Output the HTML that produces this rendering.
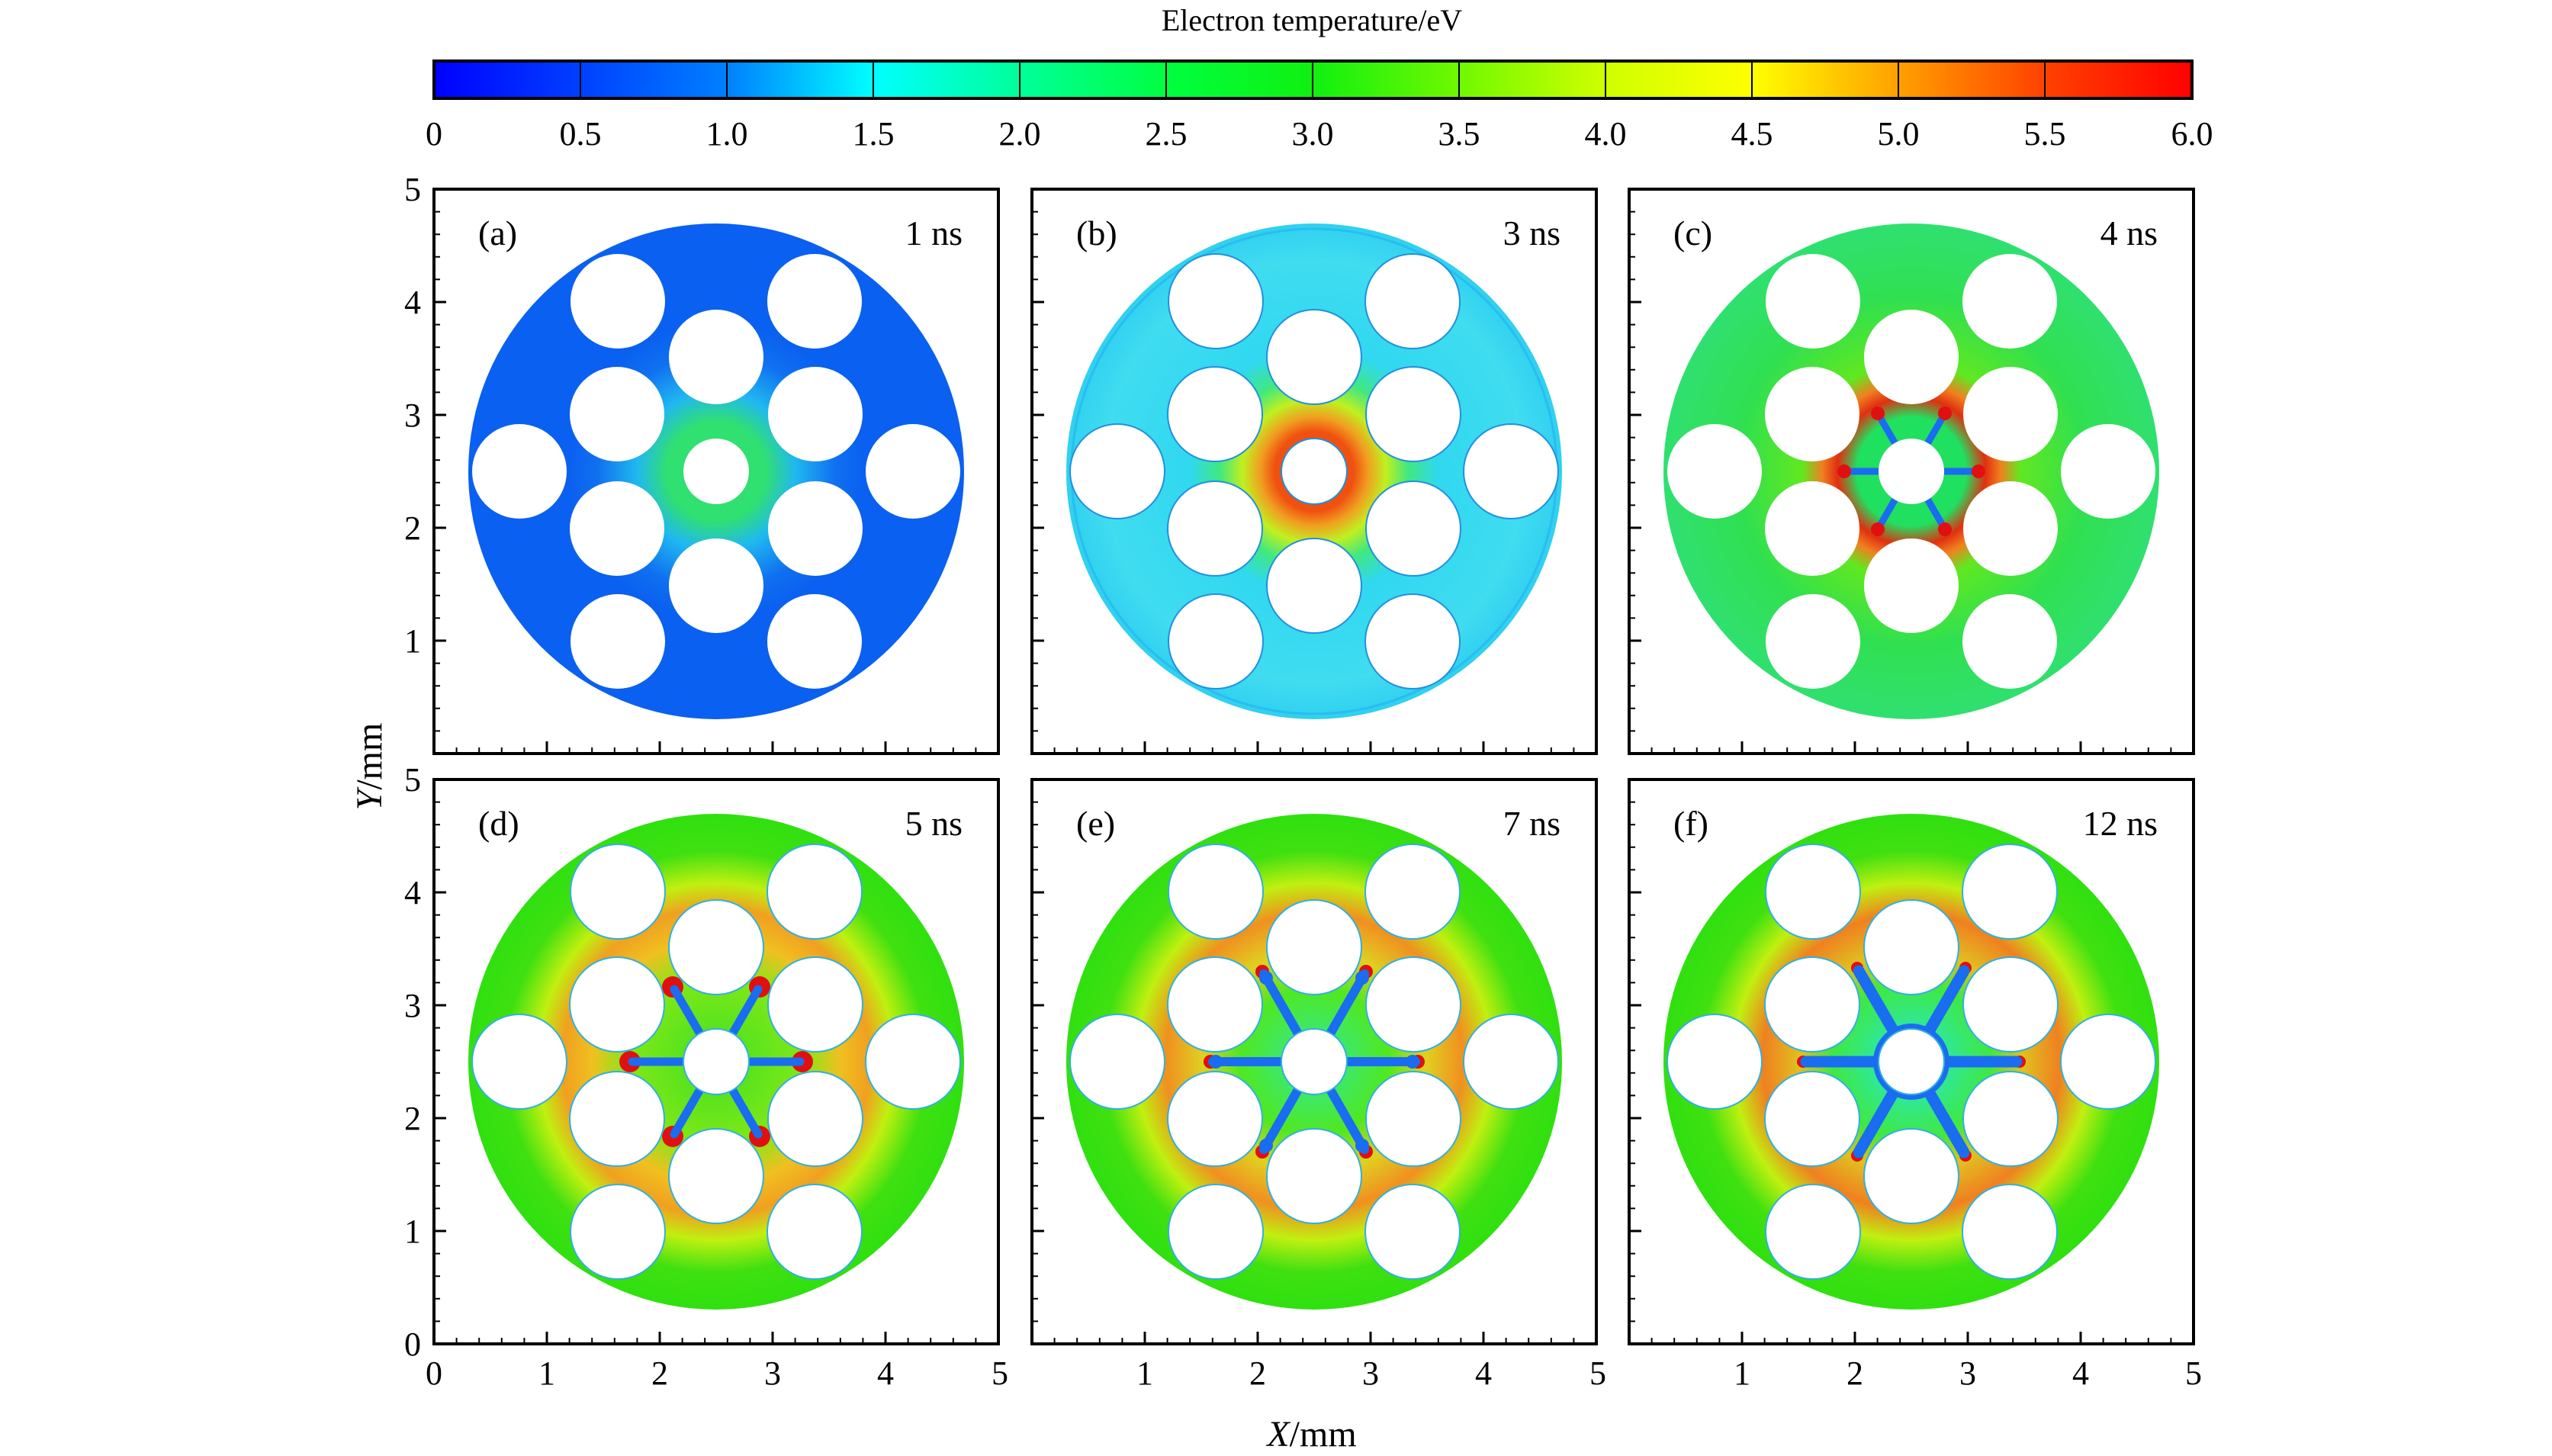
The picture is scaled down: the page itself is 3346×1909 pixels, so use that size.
<!DOCTYPE html>
<html><head><meta charset="utf-8"><style>
html,body{margin:0;padding:0;background:#fff;}
svg{display:block;}
text{font-family:"Liberation Serif","DejaVu Serif",serif;fill:#000;}
</style></head><body>
<svg width="3346" height="1909" viewBox="0 0 3346 1909" xmlns="http://www.w3.org/2000/svg">
<defs>
<linearGradient id="cb" x1="0" x2="1" y1="0" y2="0">
<stop offset="0" stop-color="#0000ff"/>
<stop offset="0.083" stop-color="#0040ff"/>
<stop offset="0.167" stop-color="#0080ff"/>
<stop offset="0.25" stop-color="#00ffff"/>
<stop offset="0.333" stop-color="#00ff99"/>
<stop offset="0.417" stop-color="#00ff40"/>
<stop offset="0.5" stop-color="#10f010"/>
<stop offset="0.583" stop-color="#70f800"/>
<stop offset="0.667" stop-color="#d0ff00"/>
<stop offset="0.75" stop-color="#ffff00"/>
<stop offset="0.833" stop-color="#ffa000"/>
<stop offset="0.917" stop-color="#ff4000"/>
<stop offset="1" stop-color="#ff0000"/>
</linearGradient>
<radialGradient id="ga" cx="370" cy="370" r="325" gradientUnits="userSpaceOnUse">
<stop offset="0" stop-color="#30e070"/>
<stop offset="0.2" stop-color="#30e070"/>
<stop offset="0.32" stop-color="#20b8f0"/>
<stop offset="0.48" stop-color="#1070f0"/>
<stop offset="0.6" stop-color="#0a60f0"/>
<stop offset="1" stop-color="#0a60f0"/>
</radialGradient>
<radialGradient id="gb" cx="370" cy="370" r="325" gradientUnits="userSpaceOnUse">
<stop offset="0" stop-color="#f05010"/>
<stop offset="0.16" stop-color="#f05010"/>
<stop offset="0.22" stop-color="#f0a020"/>
<stop offset="0.29" stop-color="#c0f020"/>
<stop offset="0.38" stop-color="#40e880"/>
<stop offset="0.5" stop-color="#30d8f0"/>
<stop offset="0.85" stop-color="#40dcf0"/>
<stop offset="1" stop-color="#30d0f0"/>
</radialGradient>
<radialGradient id="gc" cx="370" cy="370" r="325" gradientUnits="userSpaceOnUse">
<stop offset="0" stop-color="#20e060"/>
<stop offset="0.22" stop-color="#20e060"/>
<stop offset="0.3" stop-color="#e03010"/>
<stop offset="0.36" stop-color="#f08020"/>
<stop offset="0.44" stop-color="#60e820"/>
<stop offset="0.7" stop-color="#30e050"/>
<stop offset="1" stop-color="#30e070"/>
</radialGradient>
<radialGradient id="gd" cx="370" cy="370" r="325" gradientUnits="userSpaceOnUse">
<stop offset="0" stop-color="#40e020"/>
<stop offset="0.35" stop-color="#80e818"/>
<stop offset="0.5" stop-color="#f0c020"/>
<stop offset="0.62" stop-color="#f0a020"/>
<stop offset="0.72" stop-color="#c0f010"/>
<stop offset="0.85" stop-color="#40e010"/>
<stop offset="1" stop-color="#30e010"/>
</radialGradient>
<radialGradient id="ge" cx="370" cy="370" r="325" gradientUnits="userSpaceOnUse">
<stop offset="0" stop-color="#30e8a0"/>
<stop offset="0.3" stop-color="#50e820"/>
<stop offset="0.45" stop-color="#e0d020"/>
<stop offset="0.6" stop-color="#f09020"/>
<stop offset="0.72" stop-color="#c0f010"/>
<stop offset="0.85" stop-color="#40e010"/>
<stop offset="1" stop-color="#30e010"/>
</radialGradient>
<radialGradient id="gf" cx="370" cy="370" r="325" gradientUnits="userSpaceOnUse">
<stop offset="0" stop-color="#20e8e0"/>
<stop offset="0.32" stop-color="#40e840"/>
<stop offset="0.45" stop-color="#e0c020"/>
<stop offset="0.6" stop-color="#f08020"/>
<stop offset="0.72" stop-color="#c0f010"/>
<stop offset="0.85" stop-color="#40e010"/>
<stop offset="1" stop-color="#30e010"/>
</radialGradient>
<g id="holes" fill="#fff">
<circle cx="370" cy="370" r="43"/>
<circle cx="500" cy="295" r="62"/><circle cx="370" cy="220" r="62"/><circle cx="240" cy="295" r="62"/>
<circle cx="240" cy="445" r="62"/><circle cx="370" cy="520" r="62"/><circle cx="500" cy="445" r="62"/>
<circle cx="628" cy="370" r="62"/><circle cx="499" cy="147" r="62"/><circle cx="241" cy="147" r="62"/>
<circle cx="112" cy="370" r="62"/><circle cx="241" cy="593" r="62"/><circle cx="499" cy="593" r="62"/>
</g>
<g id="frame">
<line x1="4" y1="740" x2="4" y2="0" stroke="#000" stroke-width="8" stroke-dasharray="2 27.6" stroke-dashoffset="1"/>
<line x1="8" y1="740" x2="8" y2="0" stroke="#000" stroke-width="16" stroke-dasharray="3 145" stroke-dashoffset="1.5"/>
<line x1="0" y1="736" x2="740" y2="736" stroke="#000" stroke-width="8" stroke-dasharray="2 27.6" stroke-dashoffset="1"/>
<line x1="0" y1="732" x2="740" y2="732" stroke="#000" stroke-width="16" stroke-dasharray="3 145" stroke-dashoffset="1.5"/>
<rect x="0" y="0" width="740" height="740" fill="none" stroke="#000" stroke-width="4"/>
</g>
</defs>

<text x="1720" y="40" font-size="40" text-anchor="middle">Electron temperature/eV</text>
<rect x="569" y="80" width="2305" height="49" fill="url(#cb)" stroke="#000" stroke-width="4"/>
<g stroke="#000" stroke-width="2">
<line x1="761" y1="80" x2="761" y2="129"/><line x1="953" y1="80" x2="953" y2="129"/><line x1="1145" y1="80" x2="1145" y2="129"/>
<line x1="1337" y1="80" x2="1337" y2="129"/><line x1="1529" y1="80" x2="1529" y2="129"/><line x1="1721" y1="80" x2="1721" y2="129"/>
<line x1="1913" y1="80" x2="1913" y2="129"/><line x1="2105" y1="80" x2="2105" y2="129"/><line x1="2297" y1="80" x2="2297" y2="129"/>
<line x1="2489" y1="80" x2="2489" y2="129"/><line x1="2681" y1="80" x2="2681" y2="129"/>
</g>
<g font-size="44" text-anchor="middle">
<text x="569" y="190">0</text><text x="761" y="190">0.5</text><text x="953" y="190">1.0</text><text x="1145" y="190">1.5</text>
<text x="1337" y="190">2.0</text><text x="1529" y="190">2.5</text><text x="1721" y="190">3.0</text><text x="1913" y="190">3.5</text>
<text x="2105" y="190">4.0</text><text x="2297" y="190">4.5</text><text x="2489" y="190">5.0</text><text x="2681" y="190">5.5</text>
<text x="2874" y="190">6.0</text>
</g>

<g transform="translate(569,248)">
<circle cx="370" cy="370" r="325" fill="url(#ga)"/>
<use href="#holes"/>
<use href="#frame"/>
<text x="58" y="73" font-size="46">(a)</text><text x="693" y="73" font-size="46" text-anchor="end">1 ns</text>
</g>
<g transform="translate(1353,248)">
<circle cx="370" cy="370" r="325" fill="url(#gb)"/>
<circle cx="370" cy="370" r="318" fill="none" stroke="#20b0f0" stroke-width="3" opacity="0.6"/>
<g fill="#fff" stroke="#2090e0" stroke-width="2"><use href="#holes"/></g>
<use href="#frame"/>
<text x="58" y="73" font-size="46">(b)</text><text x="693" y="73" font-size="46" text-anchor="end">3 ns</text>
</g>
<g transform="translate(2136,248)">
<circle cx="370" cy="370" r="325" fill="url(#gc)"/>
<g stroke="#1a6cf0" stroke-width="9" stroke-linecap="round">
<line x1="370" y1="370" x2="450" y2="370"/><line x1="370" y1="370" x2="290" y2="370"/>
<line x1="370" y1="370" x2="410" y2="301"/><line x1="370" y1="370" x2="330" y2="301"/>
<line x1="370" y1="370" x2="410" y2="439"/><line x1="370" y1="370" x2="330" y2="439"/>
</g>
<g fill="#e01010"><circle cx="458" cy="370" r="9"/><circle cx="282" cy="370" r="9"/><circle cx="414" cy="294" r="9"/><circle cx="326" cy="294" r="9"/><circle cx="414" cy="446" r="9"/><circle cx="326" cy="446" r="9"/></g>
<use href="#holes"/>
<use href="#frame"/>
<text x="58" y="73" font-size="46">(c)</text><text x="693" y="73" font-size="46" text-anchor="end">4 ns</text>
</g>

<g transform="translate(569,1022)">
<circle cx="370" cy="370" r="325" fill="url(#gd)"/>
<g fill="#e01010"><circle cx="483" cy="370" r="14"/><circle cx="257" cy="370" r="14"/><circle cx="427" cy="272" r="14"/><circle cx="313" cy="272" r="14"/><circle cx="427" cy="468" r="14"/><circle cx="313" cy="468" r="14"/></g>
<g stroke="#1a6cf0" stroke-width="11" stroke-linecap="round">
<line x1="370" y1="370" x2="480" y2="370"/><line x1="370" y1="370" x2="260" y2="370"/>
<line x1="370" y1="370" x2="425" y2="275"/><line x1="370" y1="370" x2="315" y2="275"/>
<line x1="370" y1="370" x2="425" y2="465"/><line x1="370" y1="370" x2="315" y2="465"/>
</g>
<g fill="#fff" stroke="#30b0e0" stroke-width="2"><use href="#holes"/></g>
<use href="#frame"/>
<text x="58" y="73" font-size="46">(d)</text><text x="693" y="73" font-size="46" text-anchor="end">5 ns</text>
</g>
<g transform="translate(1353,1022)">
<circle cx="370" cy="370" r="325" fill="url(#ge)"/>
<g fill="#e01010"><circle cx="506" cy="370" r="9"/><circle cx="234" cy="370" r="9"/><circle cx="438" cy="252" r="9"/><circle cx="302" cy="252" r="9"/><circle cx="438" cy="488" r="9"/><circle cx="302" cy="488" r="9"/></g>
<g stroke="#1a6cf0" stroke-width="12" stroke-linecap="round">
<line x1="370" y1="370" x2="503" y2="370"/><line x1="370" y1="370" x2="237" y2="370"/>
<line x1="370" y1="370" x2="436" y2="255"/><line x1="370" y1="370" x2="304" y2="255"/>
<line x1="370" y1="370" x2="436" y2="485"/><line x1="370" y1="370" x2="304" y2="485"/>
</g>
<g fill="#1a6cf0"><circle cx="499" cy="370" r="9"/><circle cx="241" cy="370" r="9"/><circle cx="433" cy="260" r="9"/><circle cx="307" cy="260" r="9"/><circle cx="433" cy="480" r="9"/><circle cx="307" cy="480" r="9"/></g>
<g fill="#fff" stroke="#30b0e0" stroke-width="2"><use href="#holes"/></g>
<use href="#frame"/>
<text x="58" y="73" font-size="46">(e)</text><text x="693" y="73" font-size="46" text-anchor="end">7 ns</text>
</g>
<g transform="translate(2136,1022)">
<circle cx="370" cy="370" r="325" fill="url(#gf)"/>
<g fill="#e01010"><circle cx="512" cy="370" r="8"/><circle cx="228" cy="370" r="8"/><circle cx="441" cy="247" r="8"/><circle cx="299" cy="247" r="8"/><circle cx="441" cy="493" r="8"/><circle cx="299" cy="493" r="8"/></g>
<g stroke="#1a6cf0" stroke-width="15" stroke-linecap="round">
<line x1="370" y1="370" x2="508" y2="370"/><line x1="370" y1="370" x2="232" y2="370"/>
<line x1="370" y1="370" x2="439" y2="251"/><line x1="370" y1="370" x2="301" y2="251"/>
<line x1="370" y1="370" x2="439" y2="489"/><line x1="370" y1="370" x2="301" y2="489"/>
</g>
<circle cx="370" cy="370" r="50" fill="#1a6cf0"/>
<g fill="#fff" stroke="#30b0e0" stroke-width="2"><use href="#holes"/></g>
<use href="#frame"/>
<text x="58" y="73" font-size="46">(f)</text><text x="693" y="73" font-size="46" text-anchor="end">12 ns</text>
</g>

<g font-size="44" text-anchor="end">
<text x="552" y="263">5</text><text x="552" y="411">4</text><text x="552" y="559">3</text><text x="552" y="707">2</text><text x="552" y="855">1</text>
<text x="552" y="1037">5</text><text x="552" y="1185">4</text><text x="552" y="1333">3</text><text x="552" y="1481">2</text><text x="552" y="1629">1</text><text x="552" y="1777">0</text>
</g>
<g font-size="44" text-anchor="middle">
<text x="569" y="1815">0</text><text x="717" y="1815">1</text><text x="865" y="1815">2</text><text x="1013" y="1815">3</text><text x="1161" y="1815">4</text><text x="1311" y="1815">5</text>
<text x="1501" y="1815">1</text><text x="1649" y="1815">2</text><text x="1797" y="1815">3</text><text x="1945" y="1815">4</text><text x="2095" y="1815">5</text>
<text x="2284" y="1815">1</text><text x="2432" y="1815">2</text><text x="2580" y="1815">3</text><text x="2728" y="1815">4</text><text x="2876" y="1815">5</text>
</g>
<text x="1720" y="1896" font-size="48" text-anchor="middle"><tspan font-style="italic">X</tspan>/mm</text>
<text transform="translate(500,1005) rotate(-90)" font-size="48" text-anchor="middle"><tspan font-style="italic">Y</tspan>/mm</text>
</svg>
</body></html>
